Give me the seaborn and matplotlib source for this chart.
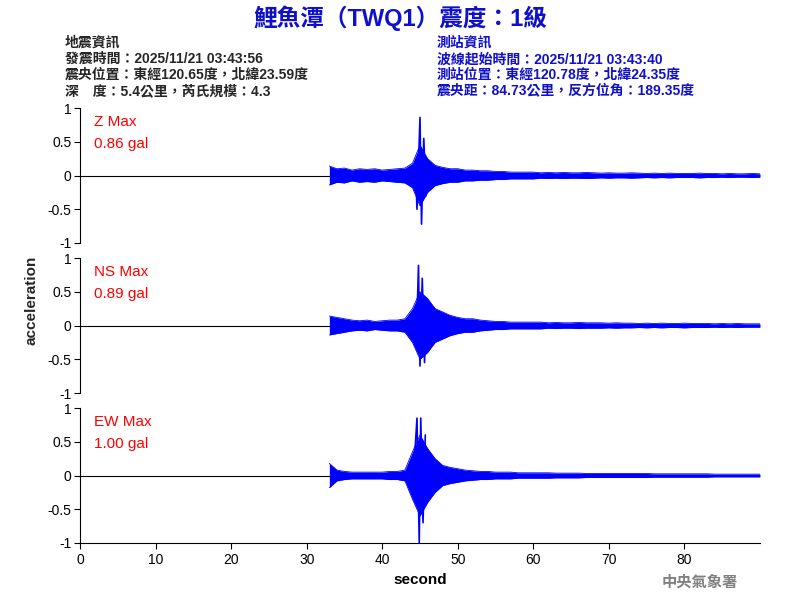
import numpy as np
import matplotlib
matplotlib.use("Agg")
import matplotlib.pyplot as plt
import seaborn as sns

sns.set_style("white")
plt.rcParams['font.family'] = ['Liberation Sans', 'Noto Sans CJK TC', 'DejaVu Sans']

t_env = list(range(33, 91))
tail_z = [.05,.04,.045,.04,.045,.04,.04,.045,.04,.035,.04,.035,.035,.04,.035,.03,.035,.03,.035,.03,.03,.03,.035,.03,.03,.025,.03,.025,.025,.03,.025]
env_z = [.14,.1,.11,.08,.1,.09,.1,.08,.09,.1,.11,.18,.45,.25,.15,.12,.1,.1,.08,.08,.07,.07,.06,.06,.05,.05,.05] + tail_z
env_ns = [.14,.12,.1,.08,.07,.08,.06,.07,.08,.08,.1,.25,.5,.4,.25,.2,.15,.12,.1,.1,.08,.07,.06,.06,.05,.05,.05] + \
    [.05,.05,.04,.045,.04,.04,.045,.04,.04,.04,.035,.04,.035,.035,.03,.035,.03,.035,.03,.03,.035,.03,.03,.03,.025,.03,.025,.03,.025,.025,.025]
env_ew = [.18,.08,.06,.05,.05,.05,.05,.05,.06,.06,.08,.35,.6,.4,.25,.15,.12,.1,.08,.07,.06,.06,.05,.05,.05,.04,.04] + \
    [.04,.04,.04,.035,.035,.035,.035,.03,.03,.03,.03,.03,.03,.03,.03,.03,.025,.025,.025,.025,.025,.025,.025,.025,.02,.02,.02,.02,.02,.02,.02]
peak_t_z = [44.4, 44.6, 45.0, 45.2, 45.5, 45.8]
peak_v_z = [0.2, -0.5, 0.86, -0.72, 0.55, -0.3]
peak_t_ns = [44.5, 44.8, 45.0, 45.3, 45.6, 45.9]
peak_v_ns = [-0.3, 0.89, -0.6, 0.7, -0.55, 0.4]
peak_t_ew = [44.3, 44.6, 44.9, 45.1, 45.4, 45.7]
peak_v_ew = [0.3, 0.85, -1.0, 0.85, -0.7, 0.6]

channels = ["Z", "NS", "EW"]
maxes = ["0.86 gal", "0.89 gal", "1.00 gal"]
envs = [env_z, env_ns, env_ew]
peaks = [(peak_t_z, peak_v_z), (peak_t_ns, peak_v_ns), (peak_t_ew, peak_v_ew)]

fig = plt.figure(figsize=(8, 6), dpi=100)
bottoms = [0.595, 0.345, 0.095]
for i in range(3):
    ax = fig.add_axes([0.1, bottoms[i], 0.85, 0.225])
    env = np.array(envs[i])
    ax.axhline(0, color='black', lw=0.8, zorder=1)
    ax.fill_between(t_env, -env, env, color='blue', lw=0, zorder=2)
    sns.lineplot(x=t_env, y=env, ax=ax, color='blue', lw=0.6, zorder=3)
    sns.lineplot(x=t_env, y=-env, ax=ax, color='blue', lw=0.6, zorder=3)
    pt, pv = peaks[i]
    ax.plot(pt, pv, color='blue', lw=1.2, zorder=3)
    ax.set_xlim(0, 90)
    ax.set_ylim(-1, 1)
    ax.set_yticks([-1, -0.5, 0, 0.5, 1])
    ax.set_yticklabels(["-1", "-0.5", "0", "0.5", "1"], fontsize=10)
    ax.tick_params(axis='y', left=True, length=4, pad=2, colors='black')
    for s in ['top', 'right']:
        ax.spines[s].set_visible(False)
    ax.spines['left'].set_color('black')
    ax.text(0.02, 0.9, channels[i] + " Max", transform=ax.transAxes, color='red', fontsize=11, va='center')
    ax.text(0.02, 0.73, maxes[i], transform=ax.transAxes, color='red', fontsize=11, va='center')
    if i < 2:
        ax.spines['bottom'].set_visible(False)
        ax.set_xticks([])
    else:
        ax.spines['bottom'].set_color('black')
        ax.set_xticks(range(0, 90, 10))
        ax.tick_params(axis='x', bottom=True, length=4, labelsize=10, colors='black')
        ax.set_xlabel("second", fontsize=11, fontweight='bold', color='black')

fig.text(0.04, 0.5, "acceleration", rotation=90, va='center', ha='center', fontsize=11, fontweight='bold')
fig.text(0.5, 0.97, "鯉魚潭（TWQ1）震度：1級", color='#1010cc', fontsize=17, fontweight='bold', ha='center', va='center')
left = ["地震資訊", "發震時間：2025/11/21 03:43:56", "震央位置：東經120.65度，北緯23.59度", "深　度：5.4公里，芮氏規模：4.3"]
right = ["測站資訊", "波線起始時間：2025/11/21 03:43:40", "測站位置：東經120.78度，北緯24.35度", "震央距：84.73公里，反方位角：189.35度"]
for k, (a, b) in enumerate(zip(left, right)):
    y = 1 - (43 + 16 * k) / 600
    fig.text(65 / 800, y, a, fontsize=10, fontweight='bold', va='center')
    fig.text(437 / 800, y, b, fontsize=10, fontweight='bold', va='center', color='#1010cc')
fig.text(700 / 800, 1 - 582 / 600, "中央氣象署", color='gray', fontsize=11, fontweight='bold', ha='center', va='center')
fig.savefig("out.png", dpi=100)
